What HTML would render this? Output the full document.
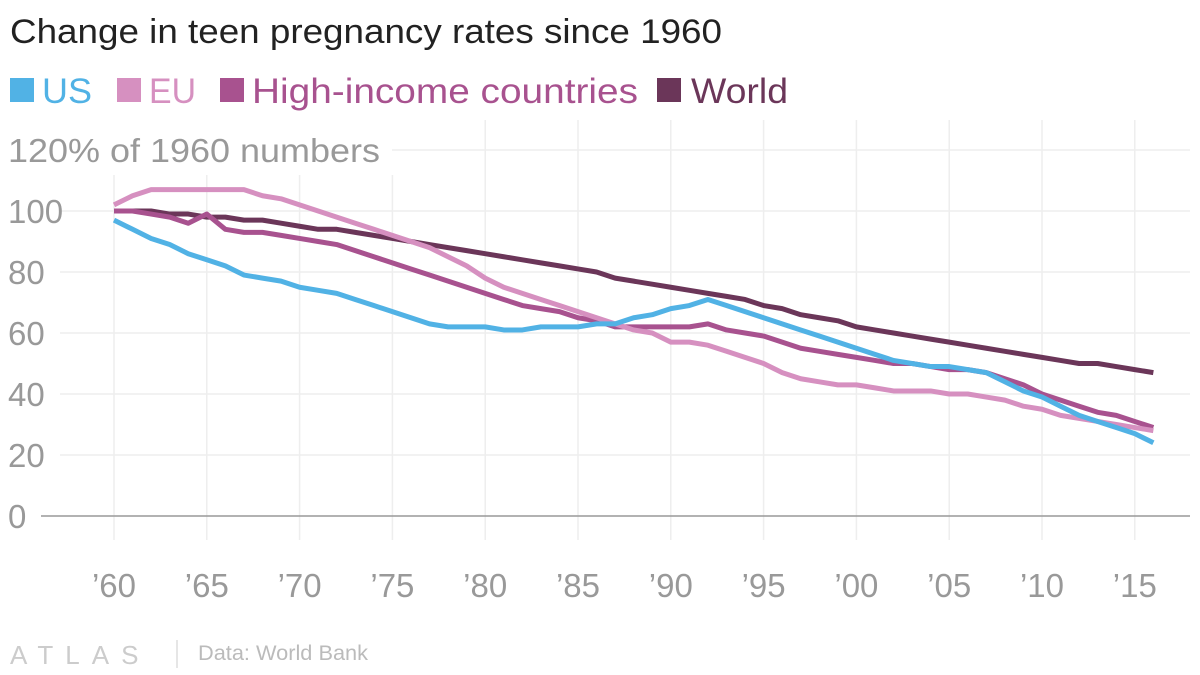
<!DOCTYPE html>
<html><head><meta charset="utf-8"><style>
body{margin:0;background:#fff;width:1200px;height:675px;overflow:hidden;font-family:"Liberation Sans",sans-serif}
svg{display:block}
</style></head><body>
<svg id="c" width="1200" height="675">
<text x="10" y="43" font-size="34" fill="#222" textLength="712" lengthAdjust="spacingAndGlyphs">Change in teen pregnancy rates since 1960</text>
<g font-size="35">
<rect x="10" y="78" width="24" height="24" fill="#51b2e5"/>
<text x="42" y="103" fill="#51b2e5" textLength="50" lengthAdjust="spacingAndGlyphs">US</text>
<rect x="117" y="78" width="24" height="24" fill="#d690c0"/>
<text x="149" y="103" fill="#d690c0" textLength="47" lengthAdjust="spacingAndGlyphs">EU</text>
<rect x="220" y="78" width="24" height="24" fill="#a8528f"/>
<text x="252" y="103" fill="#a8528f" textLength="386" lengthAdjust="spacingAndGlyphs">High-income countries</text>
<rect x="657" y="78" width="24" height="24" fill="#6b3659"/>
<text x="691" y="103" fill="#6b3659" textLength="97" lengthAdjust="spacingAndGlyphs">World</text>
</g>
<g id="grid"></g><g id="lines"></g>
<text x="10" y="664" font-size="26" fill="#ccc" letter-spacing="12">ATLAS</text>
<line x1="177" y1="640" x2="177" y2="668" stroke="#ddd" stroke-width="1.5"/>
<text x="198" y="660" font-size="21" fill="#bbb" textLength="170" lengthAdjust="spacingAndGlyphs">Data: World Bank</text>
</svg>
<script>
const years=[];for(let y=1960;y<=2016;y++)years.push(y);
const us=[97,94,91,89,86,84,82,79,78,77,75,74,73,71,69,67,65,63,62,62,62,61,61,62,62,62,63,63,65,66,68,69,71,69,67,65,63,61,59,57,55,53,51,50,49,49,48,47,44,41,39,36,33,31,29,27,24];
const eu=[102,105,107,107,107,107,107,107,105,104,102,100,98,96,94,92,90,88,85,82,78,75,73,71,69,67,65,63,61,60,57,57,56,54,52,50,47,45,44,43,43,42,41,41,41,40,40,39,38,36,35,33,32,31,30,29,28];
const hi=[100,100,99,98,96,99,94,93,93,92,91,90,89,87,85,83,81,79,77,75,73,71,69,68,67,65,64,62,62,62,62,62,63,61,60,59,57,55,54,53,52,51,50,50,49,48,48,47,45,43,40,38,36,34,33,31,29];
const world=[100,100,100,99,99,98,98,97,97,96,95,94,94,93,92,91,90,89,88,87,86,85,84,83,82,81,80,78,77,76,75,74,73,72,71,69,68,66,65,64,62,61,60,59,58,57,56,55,54,53,52,51,50,50,49,48,47];
const yTicks=[0,20,40,60,80,100,120];
const xTicks=[1960,1965,1970,1975,1980,1985,1990,1995,2000,2005,2010,2015];
const xTickLabels=["’60","’65","’70","’75","’80","’85","’90","’95","’00","’05","’10","’15"];
const X=y=>114+(y-1960)*18.56, Y=v=>516-v*3.05;
const NS="http://www.w3.org/2000/svg";
const g=document.getElementById('grid'), L=document.getElementById('lines');
function mk(tag,at,par){const e=document.createElementNS(NS,tag);for(const k in at)e.setAttribute(k,at[k]);par.appendChild(e);return e;}
xTicks.forEach((yr,i)=>{const e=mk('line',{x1:X(yr),x2:X(yr),y1:yr<1980?175:120,y2:540,stroke:'#eee','stroke-width':1.5},g);


const t=mk('text',{x:X(yr),y:597,'font-size':33,fill:'#999','text-anchor':'middle'},g);t.textContent=xTickLabels[i];

});
yTicks.forEach(v=>{const e=mk('line',{x1:v===0?41:(v===120?392:60),x2:1190,y1:Y(v),y2:Y(v),stroke:v===0?'#999':'#eee','stroke-width':1.5},g);


const t=mk('text',{x:8,y:Y(v)+12,'font-size':33,fill:'#999'},g);t.textContent=v===120?'120% of 1960 numbers':v;
if(v===120){t.setAttribute('textLength','372');t.setAttribute('lengthAdjust','spacingAndGlyphs');}

});
[[world,'#6b3659','world'],[hi,'#a8528f','high-income'],[eu,'#d690c0','eu'],[us,'#51b2e5','us']].forEach(([d,c,n])=>{
const p=mk('polyline',{points:d.map((v,i)=>X(years[i])+','+Y(v)).join(' '),fill:'none',stroke:c,'stroke-width':5,'stroke-linejoin':'round'},L);

});
</script>
</body></html>
